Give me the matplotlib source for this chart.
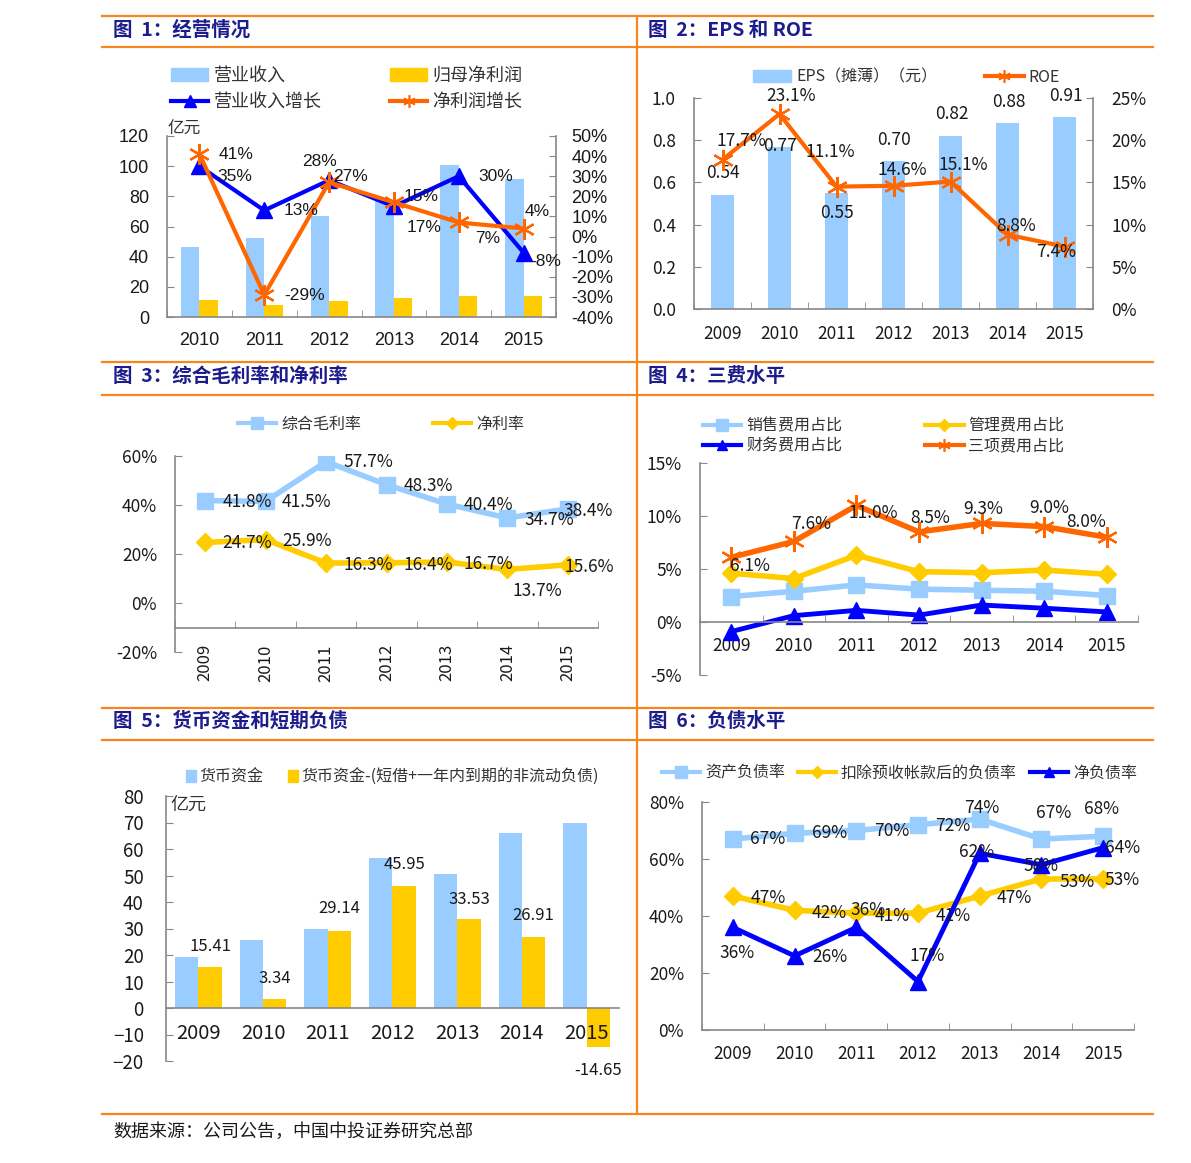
import numpy as np
import matplotlib.pyplot as plt
from matplotlib.lines import Line2D
from matplotlib.patches import Patch
from matplotlib.ticker import FuncFormatter

plt.rcParams['font.family'] = ['Noto Sans CJK SC', 'DejaVu Sans']

# ---------------- 数据 ----------------
# 图1 经营情况
years1 = ['2010', '2011', '2012', '2013', '2014', '2015']
revenue = [46.7, 52.6, 66.7, 77.0, 100.5, 91.8]
net_profit = [11.6, 8.2, 10.7, 12.6, 13.8, 14.2]
rev_growth = [35, 13, 28, 15, 30, -8]
np_growth = [41, -29, 27, 17, 7, 4]

# 图2 EPS 和 ROE
years = ['2009', '2010', '2011', '2012', '2013', '2014', '2015']
eps = [0.54, 0.77, 0.55, 0.70, 0.82, 0.88, 0.91]
roe = [17.7, 23.1, 14.5, 14.6, 15.1, 8.8, 7.4]
roe_labels = ['17.7%', '23.1%', '11.1%', '14.6%', '15.1%', '8.8%', '7.4%']

# 图3 毛利率 / 净利率
gross_margin = [41.8, 41.5, 57.7, 48.3, 40.4, 34.7, 38.4]
net_margin = [24.7, 25.9, 16.3, 16.4, 16.7, 13.7, 15.6]

# 图4 三费
sell_exp = [2.4, 2.9, 3.5, 3.1, 3.0, 2.9, 2.5]
admin_exp = [4.6, 4.1, 6.3, 4.75, 4.65, 4.9, 4.5]
fin_exp = [-0.9, 0.6, 1.1, 0.65, 1.6, 1.3, 0.95]
total_exp = [6.1, 7.6, 11.0, 8.5, 9.3, 9.0, 8.0]

# 图5 货币资金
cash = [19.4, 25.7, 29.8, 56.7, 50.6, 65.9, 69.9]
cash_net = [15.41, 3.34, 29.14, 45.95, 33.53, 26.91, -14.65]

# 图6 负债水平
debt_ratio = [67, 69, 70, 72, 74, 67, 68]
debt_ex_adv = [47, 42, 41, 41, 47, 53, 53]
net_debt = [36, 26, 36, 17, 62, 58, 64]

# ---------------- 样式 ----------------
LBLUE = '#99CCFF'
YELLOW = '#FFCC00'
BLUE = '#0000FF'
ORANGE = '#FF6600'
FRAME = '#F7861E'
NAVY = '#1C1C8C'
SPINE = '#888888'
TXT = '#1A1A1A'
STAR = (6, 2, 0)

W, H = 1191, 1163
fig = plt.figure(figsize=(W / 100, H / 100), dpi=100)


def rect(l, t, r, b):
    return [l / W, 1 - b / H, (r - l) / W, (b - t) / H]


def fline(x0, y0, x1, y1):
    fig.add_artist(Line2D([x0 / W, x1 / W], [1 - y0 / H, 1 - y1 / H],
                          color=FRAME, lw=1.6, transform=fig.transFigure))


def ftext(x, y, s, **kw):
    fig.text(x / W, 1 - y / H, s, va='center', ha='left', **kw)


def style(ax, n, xfs=12.5, ypad=13, xpad=8):
    for s in ['top', 'right']:
        ax.spines[s].set_visible(False)
    for s in ['left', 'bottom']:
        ax.spines[s].set_color(SPINE)
        ax.spines[s].set_linewidth(1.2)
    ax.set_xlim(-0.5, n - 0.5)
    ax.set_xticks(range(n))
    ax.set_xticks(np.arange(-0.5, n, 1.0), minor=True)
    ax.tick_params(axis='x', which='major', length=0, labelsize=xfs, pad=xpad, labelcolor=TXT)
    ax.tick_params(axis='x', which='minor', direction='in', length=5, color=SPINE)
    ax.tick_params(axis='y', direction='in', length=5, color=SPINE, labelsize=12.5,
                   pad=ypad, labelcolor=TXT)
    ax.set_facecolor('none')


def labels(ax, xs, ys, texts, offs, fs=12.5, family=None):
    for x, y, t, (dx, dy) in zip(xs, ys, texts, offs):
        ax.annotate(t, (x, y), xytext=(dx, -dy), textcoords='offset pixels',
                    ha='center', va='center', fontsize=fs, color=TXT,
                    family=family, zorder=10)


def legend(handles, names, x, y, ncol, fs, hl, colsp, rowsp=0.25, htp=0.3):
    fig.legend(handles, names, loc='center left', bbox_to_anchor=(x / W, 1 - y / H),
               ncol=ncol, frameon=False, fontsize=fs, handlelength=hl,
               handletextpad=htp, columnspacing=colsp, borderpad=0, borderaxespad=0,
               labelspacing=rowsp, labelcolor='#333333')


pct = FuncFormatter(lambda v, p: '%d%%' % v)

# ---------------- 框线和标题 ----------------
fline(102, 16, 1153, 16)
fline(102, 47, 1153, 47)
fline(102, 362, 1153, 362)
fline(102, 395, 1153, 395)
fline(102, 708, 1153, 708)
fline(102, 740, 1153, 740)
fline(102, 1114, 1153, 1114)
fline(637, 16, 637, 1114)

tkw = dict(fontsize=14, fontweight='bold', color=NAVY)
ftext(113, 30, '图  1：经营情况', **tkw)
ftext(648, 30, '图  2：EPS 和 ROE', **tkw)
ftext(113, 376, '图  3：综合毛利率和净利率', **tkw)
ftext(648, 376, '图  4：三费水平', **tkw)
ftext(113, 721, '图  5：货币资金和短期负债', **tkw)
ftext(648, 721, '图  6：负债水平', **tkw)
ftext(113, 1132, '数据来源：公司公告，中国中投证券研究总部', fontsize=13, color=TXT)

ARIAL = ['Liberation Sans', 'DejaVu Sans']

# ---------------- 图1 ----------------
ax1 = fig.add_axes(rect(167, 136, 556, 317))
x6 = np.arange(len(years1))
bw = 0.285
ax1.bar(x6 - bw / 2, revenue, bw, color=LBLUE)
ax1.bar(x6 + bw / 2, net_profit, bw, color=YELLOW)
ax1.set_ylim(0, 120)
ax1.set_yticks(range(0, 121, 20))
style(ax1, 6, xfs=13, xpad=11)
ax1.set_xticklabels(years1, family=ARIAL)
for t in ax1.get_yticklabels():
    t.set_family(ARIAL)
    t.set_fontsize(13)
ax1b = ax1.twinx()
ax1b.set_ylim(-40, 50)
ax1b.set_yticks(range(-40, 51, 10))
ax1b.yaxis.set_major_formatter(pct)
for s in ['top', 'left', 'bottom']:
    ax1b.spines[s].set_visible(False)
ax1b.spines['right'].set_color(SPINE)
ax1b.spines['right'].set_linewidth(1.2)
ax1b.tick_params(axis='y', direction='in', length=5, color=SPINE, labelsize=13, pad=11,
                 labelcolor=TXT)
for t in ax1b.get_yticklabels():
    t.set_family(ARIAL)
ax1b.plot(x6, rev_growth, color=BLUE, lw=3, marker='^', ms=11)
ax1b.plot(x6, np_growth, color=ORANGE, lw=3, marker=STAR, ms=15, mew=1.6)
labels(ax1b, x6, rev_growth, ['%d%%' % v for v in rev_growth],
       [(35, 10), (37, 0), (-10, -19), (27, -10), (37, 0), (22, 9)], fs=12.5, family=ARIAL)
labels(ax1b, x6, np_growth, ['%d%%' % v for v in np_growth],
       [(37, 0), (40, 1), (21, -6), (30, 25), (29, 16), (14, -17)], fs=12.5, family=ARIAL)
ftext(167, 129, '亿元', fontsize=12, color='#333333')
legend([Patch(color=LBLUE), Line2D([], [], color=BLUE, lw=3, marker='^', ms=8),
        Patch(color=YELLOW), Line2D([], [], color=ORANGE, lw=3, marker=STAR, ms=9, mew=1.2)],
       ['营业收入', '营业收入增长', '归母净利润', '净利润增长'],
       171, 89, 2, 13, 2.05, 3.8, rowsp=0.45)

# ---------------- 图2 ----------------
x7 = np.arange(len(years))
ax2 = fig.add_axes(rect(694, 98, 1093, 309))
ax2.bar(x7, eps, 0.40, color=LBLUE)
ax2.set_ylim(0, 1.0)
ax2.set_yticks(np.arange(0, 1.01, 0.2))
ax2.yaxis.set_major_formatter(FuncFormatter(lambda v, p: '%.1f' % v))
style(ax2, 7, xpad=11.5)
ax2.set_xticklabels(years)
ax2b = ax2.twinx()
ax2b.set_ylim(0, 25)
ax2b.set_yticks(range(0, 26, 5))
ax2b.yaxis.set_major_formatter(pct)
for s in ['top', 'left', 'bottom']:
    ax2b.spines[s].set_visible(False)
ax2b.spines['right'].set_color(SPINE)
ax2b.spines['right'].set_linewidth(1.2)
ax2b.tick_params(axis='y', direction='in', length=5, color=SPINE, labelsize=12.5, pad=13,
                 labelcolor=TXT)
ax2b.plot(x7, roe, color=ORANGE, lw=3, marker=STAR, ms=15, mew=1.6)
labels(ax2, x7, eps, ['%.2f' % v for v in eps],
       [(0, -22), (1, -1), (0, 20), (1, -21), (1, -22), (1, -21), (1, -21)])
labels(ax2b, x7, roe, roe_labels,
       [(19, -19), (12, -18), (-6, -35), (9, -16), (13, -17), (9, -9), (-8, 5)])
legend([Patch(color=LBLUE), Line2D([], [], color=ORANGE, lw=3, marker=STAR, ms=9, mew=1.2)],
       ['EPS（摊薄）（元）', 'ROE'], 753, 77, 2, 11.5, 2.4, 3.0)

# ---------------- 图3 ----------------
ax3 = fig.add_axes(rect(175, 456, 598, 652))
ax3.plot(x7, gross_margin, color=LBLUE, lw=4, marker='s', ms=12)
ax3.plot(x7, net_margin, color=YELLOW, lw=4, marker='D', ms=9)
ax3.set_ylim(-20, 60)
ax3.set_yticks(range(-20, 61, 20))
ax3.yaxis.set_major_formatter(pct)
style(ax3, 7, xfs=12)
ax3.spines['bottom'].set_position(('data', -10))
ax3.set_xticklabels(years, rotation=90)
ax3.tick_params(axis='x', which='major', pad=12)
labels(ax3, x7, gross_margin, ['%.1f%%' % v for v in gross_margin],
       [(42, 1), (41, 1), (42, 0), (42, 1), (41, 1), (42, 2), (20, 2)])
labels(ax3, x7, net_margin, ['%.1f%%' % v for v in net_margin],
       [(42, 1), (41, 1), (42, 2), (42, 2), (41, 2), (30, 22), (21, 2)])
legend([Line2D([], [], color=LBLUE, lw=3, marker='s', ms=8),
        Line2D([], [], color=YELLOW, lw=3, marker='D', ms=6)],
       ['综合毛利率', '净利率'], 238, 424, 2, 11.5, 2.4, 4.5)

# ---------------- 图4 ----------------
ax4 = fig.add_axes(rect(700, 463, 1138, 675))
ax4.plot(x7, sell_exp, color=LBLUE, lw=4, marker='s', ms=12)
ax4.plot(x7, admin_exp, color=YELLOW, lw=4, marker='D', ms=9)
ax4.plot(x7, fin_exp, color=BLUE, lw=3.5, marker='^', ms=11)
ax4.plot(x7, total_exp, color=ORANGE, lw=4, marker=STAR, ms=15, mew=1.6)
ax4.set_ylim(-5, 15)
ax4.set_yticks(range(-5, 16, 5))
ax4.yaxis.set_major_formatter(pct)
style(ax4, 7, xpad=11)
ax4.spines['bottom'].set_position(('data', 0))
ax4.set_xticklabels(years)
labels(ax4, x7, total_exp, ['%.1f%%' % v for v in total_exp],
       [(19, 9), (17, -17), (17, 8), (11, -14), (2, -14), (5, -19), (-21, -15)])
legend([Line2D([], [], color=LBLUE, lw=3, marker='s', ms=8),
        Line2D([], [], color=BLUE, lw=3, marker='^', ms=7),
        Line2D([], [], color=YELLOW, lw=3, marker='D', ms=6),
        Line2D([], [], color=ORANGE, lw=3, marker=STAR, ms=9, mew=1.2)],
       ['销售费用占比', '财务费用占比', '管理费用占比', '三项费用占比'],
       703, 436, 2, 11.5, 2.4, 5.2, rowsp=0.2)

# ---------------- 图5 ----------------
ax5 = fig.add_axes(rect(166, 796, 619, 1061))
bw5 = 0.36
ax5.bar(x7 - bw5 / 2, cash, bw5, color=LBLUE)
ax5.bar(x7 + bw5 / 2, cash_net, bw5, color=YELLOW)
ax5.set_ylim(-20, 80)
ax5.set_yticks(range(-20, 81, 10))
style(ax5, 7, xfs=14.5, xpad=11)
ax5.tick_params(axis='y', labelsize=13.5, pad=16)
ax5.tick_params(axis='x', which='minor', length=0)
ax5.spines['bottom'].set_position(('data', 0))
ax5.set_xticklabels(years)
labels(ax5, x7 + bw5 / 2, cash_net, ['%.2f' % v for v in cash_net],
       [(0, -21), (0, -21), (0, -22), (0, -22), (0, -20), (0, -21), (0, 24)], fs=12)
ftext(170, 805, '亿元', fontsize=13, color='#333333')
legend([Patch(color=LBLUE), Patch(color=YELLOW)],
       ['货币资金', '货币资金-(短借+一年内到期的非流动负债)'], 186, 777, 2, 11.5, 0.65, 1.5,
       htp=0.2)

# ---------------- 图6 ----------------
ax6 = fig.add_axes(rect(702, 802, 1134, 1030))
ax6.plot(x7, debt_ratio, color=LBLUE, lw=4, marker='s', ms=12)
ax6.plot(x7, debt_ex_adv, color=YELLOW, lw=4, marker='D', ms=9)
ax6.plot(x7, net_debt, color=BLUE, lw=3.5, marker='^', ms=12)
ax6.set_ylim(0, 80)
ax6.set_yticks(range(0, 81, 20))
ax6.yaxis.set_major_formatter(pct)
style(ax6, 7, xpad=11)
ax6.set_xticklabels(years)
labels(ax6, x7, debt_ratio, ['%d%%' % v for v in debt_ratio],
       [(35, 0), (35, 0), (35, 0), (35, 1), (2, -11), (12, -26), (-2, -27)])
labels(ax6, x7, debt_ex_adv, ['%d%%' % v for v in debt_ex_adv],
       [(35, 2), (35, 3), (36, 3), (35, 3), (35, 2), (36, 3), (19, 1)])
labels(ax6, x7, net_debt, ['%d%%' % v for v in net_debt],
       [(4, 26), (35, 1), (12, -17), (9, -26), (-3, -1), (0, 1), (19, 0)])
legend([Line2D([], [], color=LBLUE, lw=3, marker='s', ms=8),
        Line2D([], [], color=YELLOW, lw=3, marker='D', ms=6),
        Line2D([], [], color=BLUE, lw=3, marker='^', ms=7)],
       ['资产负债率', '扣除预收帐款后的负债率', '净负债率'], 662, 773, 3, 11.5, 2.4, 0.8)

fig.savefig('out.png', dpi=100)
